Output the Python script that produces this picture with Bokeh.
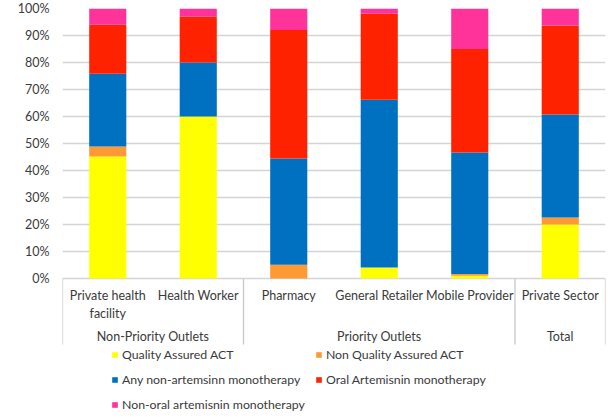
import numpy as np
from bokeh.plotting import figure
from bokeh.models import Range1d, FixedTicker, Legend, LegendItem, Label, ColumnDataSource
from bokeh.core.properties import value
from bokeh.embed import file_html
from bokeh.resources import INLINE

# ---- data ----
categories = ["Private health\nfacility", "Health Worker", "Pharmacy",
              "General Retailer", "Mobile Provider", "Private Sector"]
groups = ["Non-Priority Outlets", "Priority Outlets", "Total"]
group_sizes = [2, 3, 1]
series = ["Quality Assured ACT", "Non Quality Assured ACT",
          "Any non-artemsinn monotherapy", "Oral Artemisnin monotherapy",
          "Non-oral artemisnin monotherapy"]
qa_act = [45.2, 60, 0, 4.1, 1.0, 20]
nqa_act = [3.7, 0, 5.1, 0, 0.7, 2.6]
non_art = [26.9, 20, 39.3, 62.1, 45.0, 38.1]
oral_art = [18.2, 17, 47.6, 31.9, 38.3, 33.0]
non_oral_art = [6.0, 3, 8.0, 1.9, 15.0, 6.3]
colors = ["#FFFF00", "#FF9933", "#0070C0", "#FF2200", "#FF3399"]
y_ticks = [0, 10, 20, 30, 40, 50, 60, 70, 80, 90, 100]
y_tick_labels = ["0%", "10%", "20%", "30%", "40%", "50%", "60%", "70%", "80%", "90%", "100%"]
y_title = "Antimalarial market volumes"

# ---- layout constants (pixels) ----
W, H = 607, 412
left, right, top = 62, 2, 8
zero_px = 278                      # pixel row of the 0% line
ppu = (zero_px - top) / 100.0      # pixels per percent
y_bottom = -(H - zero_px) / ppu
cat_px = (W - left - right) / len(categories)
FONT = "Lato"
TXT = "#3A3A3A"

def py(px):
    return -(px - zero_px) / ppu

p = figure(width=W, height=H, output_backend="svg", toolbar_location=None,
           x_range=Range1d(0, len(categories)), y_range=Range1d(y_bottom, 100),
           x_axis_location=None, min_border_left=left, min_border_right=right,
           min_border_top=top, min_border_bottom=0, outline_line_color=None,
           background_fill_color="white", border_fill_color="white")

keys = ["qa", "nqa", "nonart", "oral", "nonoral"]
xs = [i + 0.5 for i in range(len(categories))]
src = ColumnDataSource(dict(x=xs, qa=qa_act, nqa=nqa_act, nonart=non_art,
                            oral=oral_art, nonoral=non_oral_art))

p.xgrid.visible = False
p.ygrid.ticker = FixedTicker(ticks=y_ticks)
p.ygrid.grid_line_color = "#D4D4D4"
p.ygrid.grid_line_width = 1.3
p.ygrid.level = "underlay"

rs = p.vbar_stack(keys, x="x", width=0.41, color=colors, line_color=None, source=src)

ax = p.yaxis[0]
ax.ticker = FixedTicker(ticks=y_ticks)
ax.major_label_overrides = {t: l for t, l in zip(y_ticks, y_tick_labels)}
ax.axis_line_color = None
ax.major_tick_line_color = None
ax.minor_tick_line_color = None
ax.major_tick_out = 0
ax.major_tick_in = 0
ax.major_label_standoff = 13
ax.major_label_text_font = FONT
ax.major_label_text_font_size = "12.5px"
ax.major_label_text_color = TXT

# group separators and labels
bounds = np.concatenate([[0], np.cumsum(group_sizes)])
p.segment(x0=bounds, y0=0, x1=bounds, y1=py(344), line_color="#C8C8C8", line_width=1.3)

p.text(x=xs, y=[py(287)] * len(categories),
       text=categories, text_align="center", text_baseline="top",
       text_font=value(FONT), text_font_size="12.5px", text_color=TXT,
       text_line_height=1.25)

centers = (bounds[:-1] + bounds[1:]) / 2.0
p.text(x=centers, y=[py(336)] * len(groups), text=groups, text_align="center",
       text_baseline="middle", text_font=value(FONT), text_font_size="12.5px",
       text_color=TXT)

# y-axis title
p.add_layout(Label(x=(10 - left) / cat_px, y=50,
                   text=y_title, angle=np.pi / 2, text_align="center",
                   text_baseline="middle", text_font=FONT, text_font_size="13px",
                   text_color=TXT))

legend = Legend(items=[LegendItem(label=s, renderers=[r]) for s, r in zip(series, rs)],
                orientation="horizontal", ncols=2, location=(49, 0),
                glyph_width=7, glyph_height=7, label_height=14, spacing=10,
                label_standoff=4, padding=0, margin=0, border_line_color=None,
                background_fill_alpha=0, label_text_font=FONT,
                label_text_font_size="12.3px", label_text_color=TXT)
p.add_layout(legend, "center")

open("out.html", "w").write(file_html(p, INLINE))
